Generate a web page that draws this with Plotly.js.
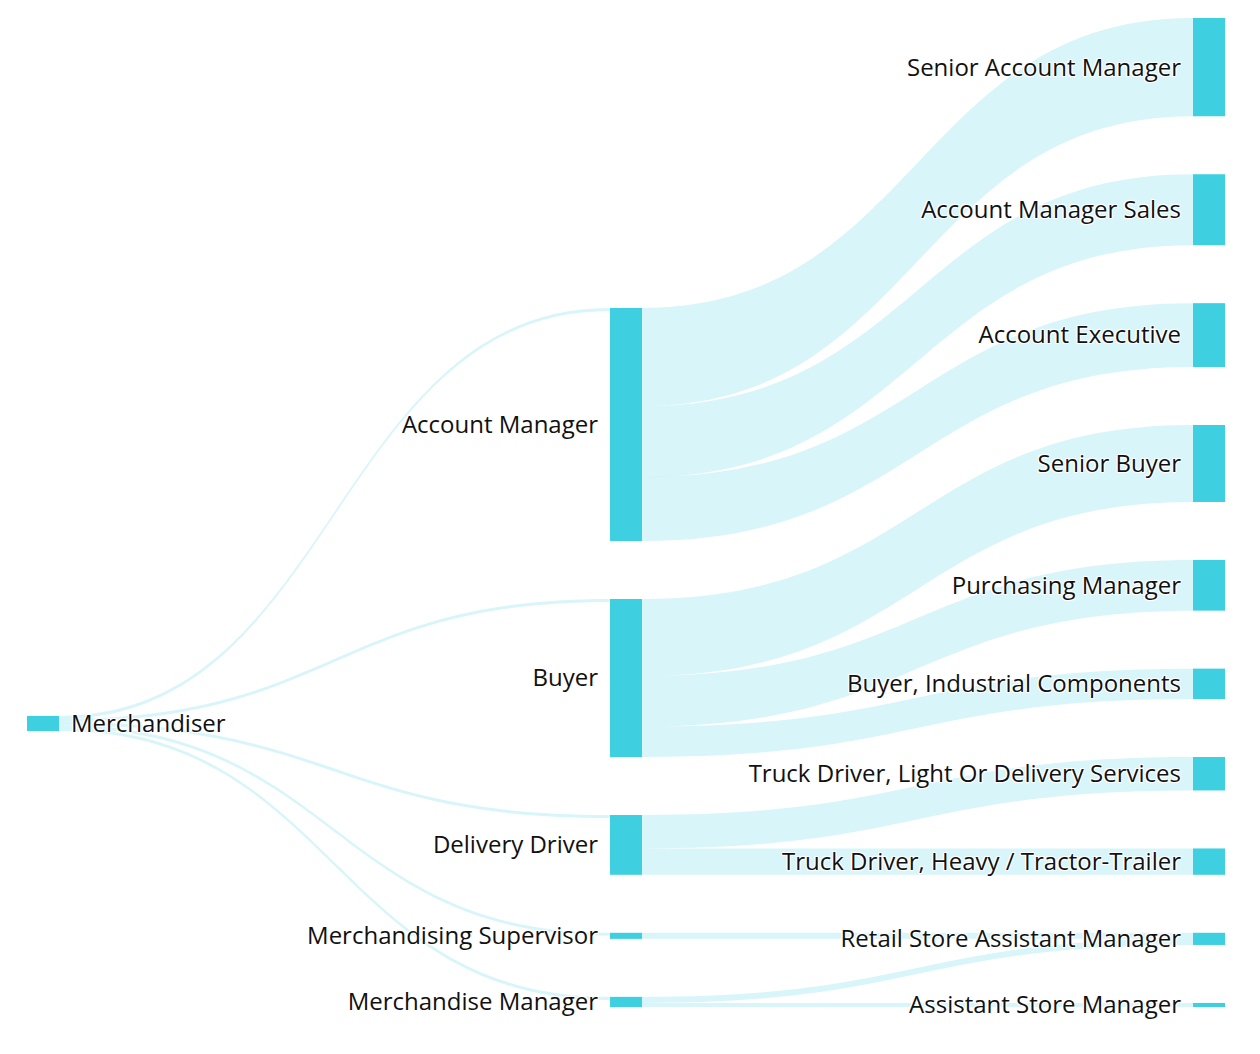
<!DOCTYPE html>
<html>
<head>
<meta charset="utf-8">
<script src="https://cdn.plot.ly/plotly-3.0.1.min.js"></script>
<style>html,body{margin:0;padding:0;background:#fff;}#chart{width:1260px;height:1054px;}</style>
</head>
<body>
<div id="chart"></div>
<script>
const nodeLabels = [
  "Merchandiser",
  "Account Manager",
  "Buyer",
  "Delivery Driver",
  "Merchandising Supervisor",
  "Merchandise Manager",
  "Senior Account Manager",
  "Account Manager Sales",
  "Senior Buyer",
  "Account Executive",
  "Purchasing Manager",
  "Buyer, Industrial Components",
  "Truck Driver, Light Or Delivery Services",
  "Truck Driver, Heavy / Tractor-Trailer",
  "Retail Store Assistant Manager",
  "Assistant Store Manager"
];
const linkSources = [0, 0, 0, 0, 0, 1, 1, 1, 2, 2, 2, 3, 3, 4, 5, 5];
const linkTargets = [1, 2, 3, 4, 5, 6, 7, 9, 8, 10, 11, 12, 13, 14, 14, 15];
const linkValues  = [3, 3, 3, 3, 3, 97, 70, 63, 76, 50, 30, 33, 26, 6, 6, 4];

const nodeColor = "#3ecfe1";
const linkColor = "rgba(62,207,225,0.2)";
const labelGap = 12;

const data = [{
  type: "sankey",
  orientation: "h",
  arrangement: "snap",
  node: {
    label: nodeLabels,
    color: nodeLabels.map(() => nodeColor),
    pad: 58,
    thickness: 32,
    line: {width: 0}
  },
  link: {
    source: linkSources,
    target: linkTargets,
    value: linkValues,
    color: linkSources.map(() => linkColor)
  },
  textfont: {family: "Open Sans, sans-serif", size: 24, color: "#111"}
}];

const layout = {
  width: 1260,
  height: 1054,
  margin: {l: 27, r: 35, t: 18, b: 47},
  paper_bgcolor: "#fff",
  font: {family: "Open Sans, sans-serif", size: 24, color: "#111"}
};

// Labels of every column after the first sit to the left of their node,
// as in the reference; positions come from the library's own node layout.
function placeLabels() {
  document.querySelectorAll("#chart .sankey-node .node-label").forEach(lab => {
    const d = lab.__data__;
    if (!d || !d.node) return;
    const tr = lab.getAttribute("transform") || "";
    const m = /translate\(\s*([-\d.e]+)(?:px)?[ ,]+([-\d.e]+)(?:px)?\s*\)/.exec(tr);
    if (!m) return;
    const y = m[2];
    const isFirst = d.node.originalLayer === 0;
    const x = isFirst ? d.visibleWidth + labelGap : -labelGap;
    lab.setAttribute("transform", "translate(" + x + "," + y + ")");
    lab.setAttribute("text-anchor", isFirst ? "start" : "end");
  });
}

Plotly.newPlot("chart", data, layout, {displayModeBar: false, staticPlot: true}).then(() => {
  placeLabels();
  [50, 200, 600, 1000, 1500].forEach(t => setTimeout(placeLabels, t));
});
</script>
</body>
</html>
